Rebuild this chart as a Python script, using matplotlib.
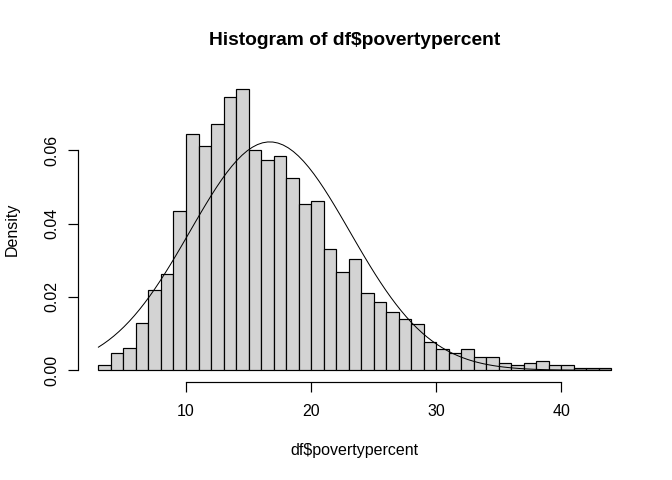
import numpy as np
import matplotlib
matplotlib.use("Agg")
import matplotlib.pyplot as plt

# ---- data ----
bin_edges = list(range(3, 45))  # 3..44, width 1
densities = [0.00155, 0.0048, 0.0060, 0.0130, 0.0218, 0.0262, 0.0436,
             0.0644, 0.0611, 0.0671, 0.0745, 0.0767, 0.0600, 0.0573,
             0.0584, 0.0524, 0.0453, 0.0463, 0.0332, 0.0267, 0.0305,
             0.0212, 0.0185, 0.0158, 0.0141, 0.0125, 0.0076, 0.0059,
             0.0048, 0.0059, 0.0037, 0.0037, 0.0021, 0.0015, 0.0021,
             0.0026, 0.0015, 0.0015, 0.0005, 0.0005, 0.0005]
norm_mean = 16.7
norm_sd = 6.4
x_ticks = [10, 20, 30, 40]
y_ticks = [0.00, 0.02, 0.04, 0.06]
y_tick_labels = ["0.00", "0.02", "0.04", "0.06"]
title = "Histogram of df$povertypercent"
xlabel = "df$povertypercent"
ylabel = "Density"

plt.rcParams['font.family'] = ['Liberation Sans', 'DejaVu Sans']

W, H = 672, 480
fig = plt.figure(figsize=(W / 96, H / 96), dpi=96)
left_px, right_px, top_px, bottom_px = 77.9, 631.9, 78.0, 381.5
ax = fig.add_axes([left_px / W, 1 - bottom_px / H,
                   (right_px - left_px) / W, (bottom_px - top_px) / H])

edges = np.array(bin_edges, dtype=float)
dens = np.array(densities)
ax.bar(edges[:-1], dens, width=np.diff(edges), align='edge',
       color='#D3D3D3', edgecolor='black', linewidth=0.9)

xs = np.linspace(edges[0], edges[-1], 101)
ys = np.exp(-0.5 * ((xs - norm_mean) / norm_sd) ** 2) / (norm_sd * np.sqrt(2 * np.pi))
ax.plot(xs, ys, color='black', linewidth=0.75)

xr = edges[-1] - edges[0]
ax.set_xlim(edges[0] - 0.04 * xr, edges[-1] + 0.04 * xr)
ymax = dens.max()
ax.set_ylim(-0.04 * ymax, ymax * 1.04)

for s in ['top', 'right']:
    ax.spines[s].set_visible(False)
ax.spines['bottom'].set_bounds(x_ticks[0], x_ticks[-1])
ax.spines['left'].set_bounds(y_ticks[0], y_ticks[-1])
for s in ['bottom', 'left']:
    ax.spines[s].set_linewidth(0.9)

ax.set_xticks(x_ticks)
ax.set_xticklabels([str(t) for t in x_ticks])
ax.set_yticks(y_ticks)
ax.set_yticklabels(y_tick_labels, rotation=90, va='center')
ax.tick_params(axis='both', direction='out', length=7.2, width=0.9,
               labelsize=12, colors='black')
ax.tick_params(axis='x', pad=10)
ax.tick_params(axis='y', pad=7)

cx = (left_px + right_px) / 2 / W
fig.text(cx, 1 - 40.7 / H, title, ha='center', va='center',
         fontsize=14.4, fontweight='bold')
fig.text(cx, 1 - 450 / H, xlabel, ha='center', va='center', fontsize=12)
fig.text(12.5 / W, 1 - (top_px + bottom_px) / 2 / H, ylabel, ha='center',
         va='center', rotation=90, fontsize=12)

fig.savefig("out.png", dpi=96)
